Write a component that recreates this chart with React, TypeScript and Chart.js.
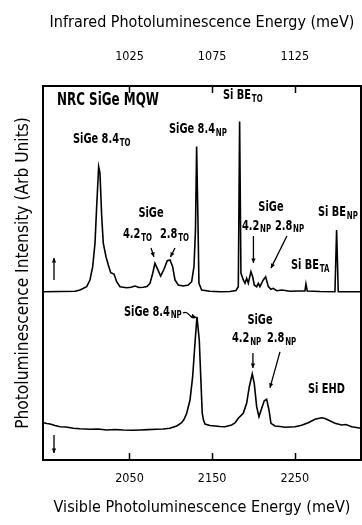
import React, { useEffect, useRef } from "react";
import { Chart, registerables } from "chart.js";

Chart.register(...registerables);

const FONT = "'DejaVu Sans Condensed', 'Liberation Sans Narrow', 'Arial Narrow', sans-serif";

// Visible energy axis range (meV); the infrared axis is half of it
const X_MIN = 1945.4;
const X_MAX = 2330;
const Y_MIN = 0;
const Y_MAX = 100;
const UPPER_OFFSET = 45;

const visibleTicks = [2050, 2150, 2250];
const infraredTicks = [1025, 1075, 1125];

const TOP_TITLE = "Infrared Photoluminescence Energy (meV)";
const BOTTOM_TITLE = "Visible Photoluminescence Energy (meV)";
const Y_TITLE = "Photoluminescence Intensity (Arb Units)";

// Upper spectrum (intensity relative to its own baseline)
const upperEnergy = [
  1945.4, 1966.0, 1984.1, 1990.1, 1998.2, 2002.2, 2005.5, 2008.3, 2010.3, 2012.7,
  2014.3, 2016.4, 2018.3, 2021.6, 2024.4, 2027.3, 2031.3, 2034.5, 2038.5, 2046.6,
  2051.8, 2056.6, 2061.5, 2066.7, 2071.2, 2074.8, 2078.1, 2080.8, 2083.6, 2087.7,
  2091.7, 2095.7, 2099.0, 2102.2, 2105.0, 2109.0, 2115.0, 2121.1, 2125.2, 2128.0,
  2129.8, 2131.2, 2132.8, 2134.0, 2137.3, 2147.3, 2159.4, 2171.5, 2178.8, 2181.6,
  2183.2, 2184.8, 2187.6, 2189.7, 2191.7, 2193.7, 2196.9, 2199.0, 2200.9, 2203.8,
  2205.8, 2207.8, 2211.8, 2214.7, 2217.9, 2221.1, 2223.9, 2228.0, 2234.4, 2244.1,
  2256.2, 2262.2, 2263.4, 2265.0, 2280.4, 2298.5, 2300.5, 2302.5, 2330.0,
];
const upperIntensity = [
  0, 0.05, 0.1, 0.45, 1.34, 3.13, 6.68, 13.0, 22.7, 33.4,
  31.7, 20.1, 13.0, 9.36, 7.14, 5.08, 4.73, 2.67, 1.34, 1.07,
  1.2, 1.52, 1.12, 1.18, 1.39, 2.25, 4.92, 7.59, 6.26, 4.2,
  5.99, 8.29, 8.48, 6.68, 3.13, 1.79, 1.52, 1.79, 2.67, 6.68,
  16.5, 38.8, 19.2, 2.25, 0.45, 0.13, 0, 0.05, 0.32, 1.34,
  45.5, 5.0, 3.13, 2.25, 3.58, 2.25, 5.35, 4.0, 1.79, 1.34,
  2.25, 1.34, 3.13, 4.0, 1.34, 0.64, 0.91, 0.27, 0.45, 0.13,
  0.19, 0.19, 2.06, 0.19, 0.05, 0, 16.5, 0, 0,
];

// Lower spectrum
const lowerEnergy = [
  1945.8, 1950.2, 1953.9, 1959.9, 1966.0, 1973.2, 1982.0, 1990.1, 2002.2, 2011.9,
  2022.4, 2032.5, 2042.5, 2053.0, 2062.7, 2072.4, 2082.9, 2090.5, 2099.0, 2107.1,
  2113.1, 2115.9, 2119.2, 2123.2, 2126.4, 2129.2, 2131.6, 2134.4, 2136.5, 2138.0,
  2139.5, 2141.3, 2147.3, 2153.4, 2159.4, 2165.5, 2173.6, 2177.6, 2181.6, 2187.6,
  2191.7, 2194.9, 2198.5, 2200.9, 2203.8, 2206.6, 2209.9, 2213.0, 2215.9, 2218.7,
  2221.1, 2226.0, 2232.0, 2238.0, 2244.1, 2250.1, 2258.2, 2266.2, 2274.3, 2282.4,
  2286.4, 2290.4, 2298.5, 2306.6, 2311.8, 2318.7, 2330.0,
];
const lowerIntensity = [
  9.97, 9.76, 9.63, 9.22, 8.9, 8.82, 8.48, 8.34, 8.21, 8.29,
  8.02, 8.16, 8.02, 7.94, 8.02, 8.13, 8.21, 8.29, 8.48, 9.09,
  9.97, 10.83, 12.49, 16.04, 22.27, 31.2, 38.3, 32.1, 20.5, 12.49,
  10.7, 9.63, 9.22, 9.09, 8.96, 8.9, 9.36, 9.89, 11.15, 12.49,
  15.16, 19.6, 23.0, 20.5, 14.25, 11.58, 13.82, 15.86, 16.23, 13.37,
  9.81, 9.09, 8.96, 8.74, 8.82, 8.9, 9.28, 9.97, 10.88, 11.31,
  11.1, 10.7, 9.81, 9.36, 9.49, 8.9, 8.48,
];

// Peak labels: text, subscript, anchor (energy, plotted value), alignment, size
type Label = { text: string; sub?: string; x: number; y: number; align?: "left" | "center"; size?: number };
const labels: Label[] = [
  { text: "NRC SiGe MQW", x: 1962.3, y: 96.0, size: 17 },
  { text: "Si BE", sub: "TO", x: 2163.1, y: 97.6 },
  { text: "SiGe 8.4", sub: "TO", x: 1981.7, y: 85.8 },
  { text: "SiGe 8.4", sub: "NP", x: 2097.8, y: 88.5 },
  { text: "SiGe", x: 2076.0, y: 66.0, align: "center" },
  { text: "4.2", sub: "TO", x: 2042.1, y: 60.2 },
  { text: "2.8", sub: "TO", x: 2086.9, y: 60.2 },
  { text: "SiGe", x: 2221.1, y: 67.6, align: "center" },
  { text: "4.2", sub: "NP", x: 2186.0, y: 62.6 },
  { text: "2.8", sub: "NP", x: 2225.9, y: 62.6 },
  { text: "Si BE", sub: "TA", x: 2245.3, y: 52.1 },
  { text: "Si BE", sub: "NP", x: 2277.9, y: 66.3 },
  { text: "SiGe 8.4", sub: "NP", x: 2043.3, y: 39.6 },
  { text: "SiGe", x: 2207.8, y: 37.4, align: "center" },
  { text: "4.2", sub: "NP", x: 2174.0, y: 32.6 },
  { text: "2.8", sub: "NP", x: 2216.3, y: 32.6 },
  { text: "Si EHD", x: 2265.8, y: 19.0 },
];

// Pointer arrows (energy, value) start -> end
type Arrow = { x1: number; y1: number; x2: number; y2: number; wavy?: boolean };
const arrows: Arrow[] = [
  { x1: 2076.0, y1: 56.7, x2: 2079.6, y2: 54.3 },
  { x1: 2105.0, y1: 56.7, x2: 2099.6, y2: 54.3 },
  { x1: 2199.9, y1: 59.9, x2: 2199.9, y2: 52.7 },
  { x1: 2240.4, y1: 59.9, x2: 2221.1, y2: 51.3 },
  { x1: 1958.7, y1: 48.1, x2: 1958.7, y2: 54.0 },
  { x1: 1958.7, y1: 6.7, x2: 1958.7, y2: 1.9 },
  { x1: 2199.3, y1: 28.6, x2: 2199.3, y2: 24.6 },
  { x1: 2232.0, y1: 28.9, x2: 2219.9, y2: 19.3 },
  { x1: 2114.7, y1: 39.3, x2: 2130.4, y2: 38.2, wavy: true },
];

const LABEL_STRETCH = 0.78;

// font size that makes a string span a given pixel width
function fitSize(text: string, width: number): number {
  const c = document.createElement("canvas").getContext("2d");
  if (!c) return 17;
  c.font = `100px ${FONT}`;
  const w = c.measureText(text).width;
  return w > 0 ? (100 * width) / w : 17;
}

function drawArrow(ctx: CanvasRenderingContext2D, x1: number, y1: number, x2: number, y2: number, wavy?: boolean) {
  ctx.beginPath();
  ctx.moveTo(x1, y1);
  if (wavy) {
    const mx = (x1 + x2) / 2;
    const my = (y1 + y2) / 2;
    ctx.quadraticCurveTo((x1 + mx) / 2, (y1 + my) / 2 - 3, mx, my);
    ctx.quadraticCurveTo((mx + x2) / 2, (my + y2) / 2 + 3, x2, y2);
  } else {
    ctx.lineTo(x2, y2);
  }
  ctx.stroke();
  const ang = Math.atan2(y2 - y1, x2 - x1);
  const len = 5;
  ctx.beginPath();
  ctx.moveTo(x2, y2);
  ctx.lineTo(x2 - len * Math.cos(ang - 0.45), y2 - len * Math.sin(ang - 0.45));
  ctx.lineTo(x2 - len * Math.cos(ang + 0.45), y2 - len * Math.sin(ang + 0.45));
  ctx.closePath();
  ctx.fill();
}

const decorPlugin = {
  id: "decor",
  afterDraw(chart: any) {
    const { ctx, chartArea, scales } = chart;
    const xs = scales.x;
    const xt = scales.x2;
    const ys = scales.y;
    ctx.save();
    ctx.strokeStyle = "#000";
    ctx.fillStyle = "#000";
    ctx.lineWidth = 2;
    ctx.strokeRect(chartArea.left, chartArea.top, chartArea.right - chartArea.left, chartArea.bottom - chartArea.top);
    ctx.lineWidth = 1.5;
    for (const v of visibleTicks) {
      const px = Math.round(xs.getPixelForValue(v)) + 0.5;
      ctx.beginPath();
      ctx.moveTo(px, chartArea.bottom);
      ctx.lineTo(px, chartArea.bottom - 7);
      ctx.stroke();
    }
    for (const v of infraredTicks) {
      const px = Math.round(xt.getPixelForValue(v)) + 0.5;
      ctx.beginPath();
      ctx.moveTo(px, chartArea.top);
      ctx.lineTo(px, chartArea.top + 7);
      ctx.stroke();
    }
    ctx.lineWidth = 1.3;
    for (const a of arrows) {
      drawArrow(ctx, xs.getPixelForValue(a.x1), ys.getPixelForValue(a.y1), xs.getPixelForValue(a.x2), ys.getPixelForValue(a.y2), a.wavy);
    }
    ctx.textBaseline = "middle";
    ctx.textAlign = "left";
    for (const l of labels) {
      const size = l.size || 14;
      const mainFont = `bold ${size}px ${FONT}`;
      const subFont = `bold 10px ${FONT}`;
      ctx.font = mainFont;
      const w = ctx.measureText(l.text).width;
      ctx.font = subFont;
      const sw = l.sub ? ctx.measureText(l.sub).width + 1 : 0;
      const px = xs.getPixelForValue(l.x);
      const py = ys.getPixelForValue(l.y);
      const total = (w + sw) * LABEL_STRETCH;
      const start = l.align === "center" ? px - total / 2 : px;
      ctx.save();
      ctx.translate(start, py);
      ctx.scale(LABEL_STRETCH, 1);
      ctx.font = mainFont;
      ctx.fillText(l.text, 0, 0);
      if (l.sub) {
        ctx.font = subFont;
        ctx.fillText(l.sub, w + 1, 4);
      }
      ctx.restore();
    }
    ctx.restore();
  },
};

export default function App() {
  const ref = useRef<HTMLCanvasElement | null>(null);
  useEffect(() => {
    if (!ref.current) return;
    const upper = upperEnergy.map((e, i) => ({ x: e, y: upperIntensity[i] + UPPER_OFFSET }));
    const lower = lowerEnergy.map((e, i) => ({ x: e, y: lowerIntensity[i] }));
    const tickFont = { family: FONT, size: 12.5 };
    const topSize = fitSize(TOP_TITLE, 305);
    const bottomSize = fitSize(BOTTOM_TITLE, 297);
    const ySize = fitSize(Y_TITLE, 312);
    const chart = new Chart(ref.current, {
      type: "line",
      data: {
        datasets: [
          { data: upper, borderColor: "#000", borderWidth: 1.6, pointRadius: 0, tension: 0, fill: false },
          { data: lower, borderColor: "#000", borderWidth: 1.6, pointRadius: 0, tension: 0, fill: false },
        ],
      },
      options: {
        responsive: false,
        animation: false,
        layout: { padding: { right: 1, left: 0, top: 0, bottom: 0 } },
        plugins: { legend: { display: false }, tooltip: { enabled: false } },
        scales: {
          x: {
            type: "linear",
            position: "bottom",
            min: X_MIN,
            max: X_MAX,
            grid: { display: false, drawTicks: false },
            border: { display: false },
            afterBuildTicks: (s: any) => {
              s.ticks = visibleTicks.map((v) => ({ value: v }));
            },
            afterFit: (s: any) => {
              s.height = 65;
            },
            ticks: { font: tickFont, color: "#000", padding: 11, maxRotation: 0, autoSkip: false, callback: (v: any) => String(v) },
            title: { display: true, text: BOTTOM_TITLE, font: { family: FONT, size: bottomSize }, color: "#000", padding: { top: 0, bottom: 17 - bottomSize * 0.6 } },
          },
          x2: {
            type: "linear",
            position: "top",
            min: X_MIN / 2,
            max: X_MAX / 2,
            grid: { display: false, drawTicks: false },
            border: { display: false },
            afterBuildTicks: (s: any) => {
              s.ticks = infraredTicks.map((v) => ({ value: v }));
            },
            afterFit: (s: any) => {
              s.height = 86;
            },
            ticks: { font: tickFont, color: "#000", padding: 22, maxRotation: 0, autoSkip: false, callback: (v: any) => String(v) },
            title: { display: true, text: TOP_TITLE, font: { family: FONT, size: topSize }, color: "#000", padding: { top: 23 - topSize * 0.6, bottom: 0 } },
          },
          y: {
            type: "linear",
            position: "left",
            min: Y_MIN,
            max: Y_MAX,
            grid: { display: false, drawTicks: false },
            border: { display: false },
            ticks: { display: false },
            afterFit: (s: any) => {
              s.width = 43;
            },
            title: { display: true, text: Y_TITLE, font: { family: FONT, size: ySize }, color: "#000", padding: { top: 24 - ySize * 0.6, bottom: 0 } },
          },
        },
      },
      plugins: [decorPlugin],
    } as any);
    return () => chart.destroy();
  }, []);
  return (
    <div style={{ position: "absolute", left: 0, top: 0, width: 362, height: 525, background: "#fff" }}>
      <canvas ref={ref} width={362} height={525} style={{ display: "block" }} />
    </div>
  );
}
